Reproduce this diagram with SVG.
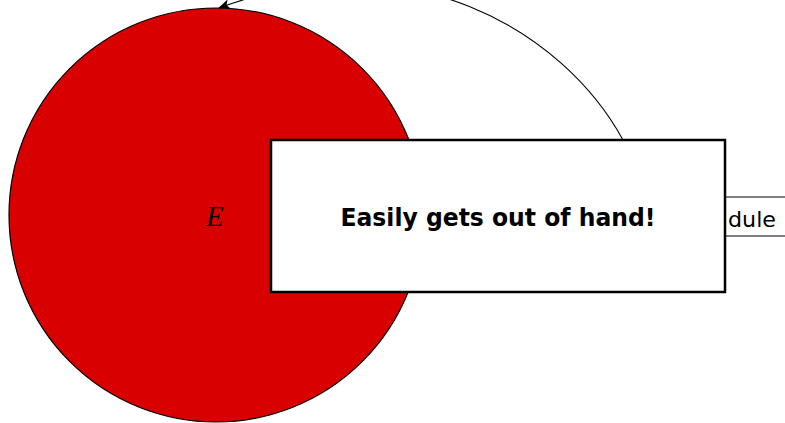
<svg xmlns="http://www.w3.org/2000/svg" width="785" height="423" viewBox="0 0 785 423">
<style>
.thin{fill:none;stroke:#000;stroke-width:1.1}
.box{fill:#fff;stroke:#000;stroke-width:2.5}
</style>
<defs>
<marker id="ah" viewBox="0 0 12 10" refX="11" refY="5" markerWidth="12" markerHeight="10" markerUnits="userSpaceOnUse" orient="auto">
<path d="M0,0 L12,5 L0,10 L3,5 Z" fill="#000"/>
</marker>
</defs>
<rect width="785" height="423" fill="#fff"/>
<g id="module">
<rect x="700" y="197" width="100" height="39" fill="#fff" stroke="#000" stroke-width="1"/>
<text x="728" y="227" font-family="DejaVu Sans, sans-serif" font-size="21" textLength="48" lengthAdjust="spacingAndGlyphs">dule</text>
</g>
<g id="E">
<circle cx="216" cy="215" r="207" fill="#d80000" stroke="#000" stroke-width="1.2"/>
<text x="206" y="226" font-family="Liberation Serif, serif" font-style="italic" font-size="29">E</text>
</g>
<g id="connectors">
<path class="thin" d="M623,140 C563,30 408,-62 219,8" marker-end="url(#ah)"/>
</g>
<g id="note">
<rect class="box" x="271" y="140" width="454" height="152"/>
<text x="498" y="226" text-anchor="middle" font-family="DejaVu Sans, sans-serif" font-weight="bold" font-size="25" textLength="315" lengthAdjust="spacingAndGlyphs">Easily gets out of hand!</text>
</g>
</svg>
